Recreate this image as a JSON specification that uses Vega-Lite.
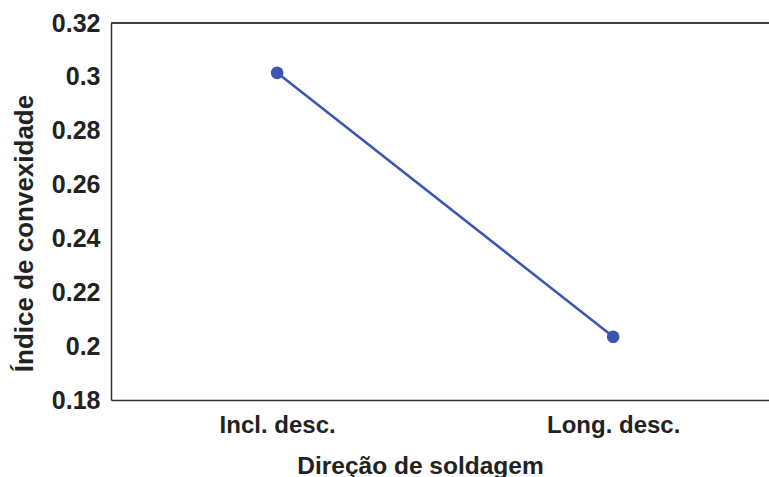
{
  "$schema": "https://vega.github.io/schema/vega-lite/v6.json",
  "width": 658,
  "height": 377,
  "autosize": {"type": "none"},
  "padding": {"left": 111, "top": 23, "right": 0, "bottom": 77},
  "background": "white",
  "config": {"view": {"stroke": null}, "font": "Liberation Sans"},
  "data": {"values": [
    {"direcao": "Incl. desc.", "indice": 0.3015},
    {"direcao": "Long. desc.", "indice": 0.2035}
  ]},
  "layer": [
    {
      "mark": {"type": "rule", "color": "#333333", "strokeWidth": 1.5},
      "encoding": {"y": {"datum": 0.32, "type": "quantitative"}}
    },
    {
      "mark": {"type": "line", "color": "#3b55b0", "strokeWidth": 2.5,
               "point": {"filled": true, "size": 160, "color": "#3b55b0"}},
      "encoding": {
        "x": {
          "field": "direcao", "type": "nominal", "sort": null,
          "scale": {"type": "point", "padding": 0.479, "align": 0.516},
          "axis": {
            "title": "Direção de soldagem", "labelAngle": 0, "grid": false,
            "labelFontSize": 24, "labelFontWeight": "bold", "labelColor": "#222222",
            "labelBaseline": "alphabetic", "labelPadding": 32,
            "ticks": false,
            "domainColor": "#333333", "domainWidth": 1.5,
            "titleFontSize": 24.5, "titleFontWeight": "bold", "titleColor": "#222222",
            "titleX": 309, "titleY": 73, "titleBaseline": "alphabetic", "titleAlign": "center"
          }
        },
        "y": {
          "field": "indice", "type": "quantitative",
          "scale": {"domain": [0.18, 0.32], "nice": false, "zero": false},
          "axis": {
            "title": "Índice de convexidade", "grid": false,
            "values": [0.18, 0.2, 0.22, 0.24, 0.26, 0.28, 0.3, 0.32],
            "labelExpr": "toString(round(datum.value*100)/100)",
            "labelFontSize": 25, "labelFontWeight": "bold", "labelColor": "#222222",
            "labelBaseline": "middle", "labelPadding": 11, "labelOverlap": false,
            "labelFlush": false,
            "ticks": false,
            "domainColor": "#333333", "domainWidth": 1.5,
            "titleFontSize": 26, "titleFontWeight": "bold", "titleColor": "#222222",
            "titleX": -79, "titleY": 210, "titleAngle": -90,
            "titleBaseline": "alphabetic", "titleAlign": "center"
          }
        }
      }
    }
  ]
}
